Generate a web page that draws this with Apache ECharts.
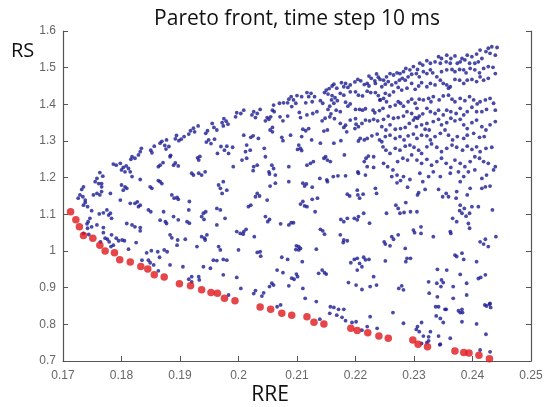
<!DOCTYPE html>
<html><head><meta charset="utf-8">
<script src="https://cdn.jsdelivr.net/npm/echarts@6/dist/echarts.min.js"></script>
<style>html,body{margin:0;padding:0;background:#fff}#c{width:550px;height:407px}</style>
</head><body><div id="c"></div>
<script>
const titleText = 'Pareto front, time step 10 ms';
const xName = 'RRE';
const yName = 'RS';
const xTicks = [0.17, 0.18, 0.19, 0.2, 0.21, 0.22, 0.23, 0.24, 0.25];
const yTicks = [0.7, 0.8, 0.9, 1, 1.1, 1.2, 1.3, 1.4, 1.5, 1.6];

// Pareto front (red)
const paretoFront = [[.1713,1.107],[.1722,1.085],[.1728,1.066],[.1735,1.042],[.1751,1.035],[.1763,1.016],[.1772,1.000],[.1788,0.995],[.1797,0.976],[.1815,0.970],[.1833,0.958],[.1845,0.951],[.1856,0.935],[.1873,0.929],[.1899,0.911],[.1918,0.905],[.1937,0.894],[.1953,0.887],[.1964,0.885],[.1976,0.871],[.1994,0.864],[.2037,0.847],[.2055,0.841],[.2074,0.830],[.2091,0.825],[.2117,0.821],[.2129,0.806],[.2146,0.801],[.2192,0.789],[.2203,0.783],[.2221,0.777],[.2240,0.768],[.2256,0.762],[.2298,0.757],[.2307,0.746],[.2323,0.739],[.2370,0.727],[.2385,0.723],[.2394,0.722],[.2411,0.716],[.2429,0.706]];

// other solutions (blue), by region
const blueUpperLeft = [[.1997,1.377],[.1995,1.366],[.1975,1.361],[.1979,1.354],[.1972,1.350],[.1982,1.346],[.1974,1.341],[.1955,1.348],[.1958,1.337],[.1963,1.330],[.1947,1.328],[.1944,1.321],[.1931,1.341],[.1923,1.335],[.1918,1.328],[.1915,1.319],[.1925,1.325],[.1907,1.312],[.1902,1.305],[.1894,1.315],[.1892,1.306],[.1898,1.301],[.1877,1.303],[.1869,1.299],[.1866,1.294],[.1874,1.288],[.1881,1.285],[.1876,1.278],[.1856,1.286],[.1850,1.275],[.1834,1.280],[.1884,1.261],[.1892,1.240],[.1897,1.232],[.1889,1.234],[.1930,1.254],[.1934,1.258],[.1932,1.248],[.1945,1.297],[.1949,1.303],[.1953,1.293],[.1959,1.305],[.1970,1.285],[.1976,1.275],[.1980,1.286],[.1990,1.283],[.1964,1.266],[.1983,1.266],[.1991,1.230]];

const blueLeftEdge = [[.1786,1.237],[.1791,1.234],[.1798,1.239],[.1803,1.228],[.1808,1.232],[.1812,1.225],[.1800,1.221],[.1806,1.216],[.1815,1.216],[.1818,1.257],[.1823,1.253],[.1829,1.262],[.1832,1.271],[.1816,1.250],[.1852,1.268],[.1866,1.234],[.1871,1.241],[.1863,1.230],[.1883,1.257],[.1763,1.214],[.1768,1.204],[.1758,1.198],[.1755,1.189],[.1761,1.184],[.1766,1.184],[.1766,1.175],[.1735,1.175],[.1732,1.168],[.1729,1.153],[.1734,1.148],[.1726,1.144],[.1738,1.139],[.1738,1.132],[.1735,1.125],[.1742,1.121],[.1749,1.110],[.1752,1.153],[.1758,1.157],[.1763,1.153],[.1766,1.162],[.1781,1.157],[.1798,1.139],[.1800,1.180],[.1806,1.175],[.1803,1.166],[.1809,1.171],[.1818,1.203],[.1832,1.195],[.1849,1.175],[.1852,1.171],[.1866,1.189],[.1869,1.184],[.1863,1.192],[.1815,1.130],[.1823,1.130],[.1827,1.134],[.1832,1.125],[.1829,1.121],[.1846,1.112],[.1850,1.107],[.1762,1.101],[.1769,1.104],[.1775,1.112],[.1781,1.103],[.1778,1.098],[.1783,1.089],[.1746,1.089],[.1743,1.080],[.1741,1.074],[.1742,1.062],[.1749,1.066],[.1758,1.071],[.1769,1.064],[.1809,1.075],[.1818,1.071],[.1823,1.066],[.1832,1.064],[.1872,1.107],[.1866,1.084],[.1875,1.080],[.1877,1.075]];

const blueLowerLeft = [[.1920,1.212],[.1923,1.207],[.1932,1.212],[.1937,1.207],[.1943,1.216],[.1966,1.180],[.1969,1.171],[.1974,1.189],[.1980,1.166],[.1972,1.157],[.1886,1.153],[.1890,1.144],[.1895,1.146],[.1897,1.141],[.1916,1.135],[.1915,1.112],[.1940,1.103],[.1944,1.107],[.1937,1.094],[.1941,1.086],[.1963,1.116],[.1969,1.112],[.1977,1.089],[.1912,1.080],[.1916,1.076],[.1889,1.094],[.1897,1.085],[.1963,1.071],[.1883,1.044],[.1886,1.036],[.1896,1.030],[.1895,1.016],[.1909,1.032],[.1937,1.039],[.1942,1.035],[.1946,1.044],[.1943,1.030],[.1929,1.012],[.1966,1.012],[.1969,1.003],[.1957,0.975],[.1963,0.974],[.1974,0.977],[.1980,0.975],[.1940,0.957],[.1952,0.953],[.1974,0.935],[.1832,1.055],[.1769,1.050],[.1783,1.044],[.1791,1.035],[.1795,1.028],[.1801,1.030],[.1805,1.028],[.1782,1.012],[.1786,1.016],[.1812,1.005],[.1825,1.023],[.1835,0.975],[.1851,1.001],[.1862,0.998],[.1873,1.003],[.1878,0.998],[.1865,0.983],[.1843,0.995],[.1846,0.975],[.1849,0.968],[.1855,0.962],[.1863,0.946],[.1883,0.962],[.1905,0.957],[.1915,0.923],[.1920,0.930],[.1920,0.916],[.1932,0.930],[.1933,0.921],[.1983,0.880],[.1735,1.048],[.1744,1.045],[.1764,1.025],[.1772,1.035],[.1776,1.032],[.1779,1.025]];

const blueUpperMiddle = [[.2236,1.483],[.2239,1.474],[.2227,1.471],[.2223,1.477],[.2220,1.457],[.2215,1.454],[.2223,1.450],[.2209,1.464],[.2204,1.468],[.2199,1.461],[.2233,1.464],[.2234,1.457],[.2183,1.457],[.2176,1.459],[.2180,1.448],[.2187,1.446],[.2191,1.453],[.2163,1.455],[.2160,1.450],[.2155,1.443],[.2150,1.439],[.2147,1.432],[.2153,1.428],[.2168,1.444],[.2160,1.424],[.2165,1.418],[.2159,1.412],[.2169,1.410],[.2163,1.403],[.2156,1.395],[.2153,1.386],[.2174,1.430],[.2180,1.425],[.2191,1.434],[.2200,1.434],[.2205,1.425],[.2212,1.423],[.2220,1.436],[.2226,1.432],[.2234,1.432],[.2239,1.424],[.2242,1.412],[.2241,1.383],[.2233,1.377],[.2230,1.384],[.2217,1.388],[.2212,1.384],[.2207,1.386],[.2200,1.386],[.2191,1.401],[.2183,1.406],[.2187,1.395],[.2174,1.380],[.2167,1.384],[.2158,1.374],[.2144,1.403],[.2140,1.410],[.2130,1.421],[.2124,1.430],[.2117,1.432],[.2120,1.421],[.2126,1.407],[.2115,1.404],[.2108,1.421],[.2100,1.424],[.2094,1.412],[.2090,1.421],[.2086,1.414],[.2084,1.404],[.2091,1.394],[.2098,1.403],[.2077,1.404],[.2070,1.403],[.2060,1.398],[.2058,1.384],[.2061,1.380],[.2055,1.366],[.2049,1.364],[.2046,1.355],[.2052,1.359],[.2037,1.386],[.2032,1.375],[.2026,1.380],[.2023,1.371],[.2029,1.364],[.2009,1.384],[.2004,1.375],[.2071,1.366],[.2076,1.355],[.2084,1.368],[.2104,1.378],[.2106,1.364],[.2117,1.371],[.2127,1.375],[.2134,1.380],[.2143,1.355],[.2148,1.362],[.2156,1.366],[.2164,1.361],[.2174,1.348],[.2180,1.337],[.2183,1.343],[.2191,1.357],[.2200,1.361],[.2201,1.346],[.2205,1.339],[.2199,1.334],[.2211,1.348],[.2217,1.357],[.2224,1.355],[.2231,1.359],[.2238,1.355],[.2237,1.319],[.2228,1.314],[.2220,1.307],[.2215,1.303],[.2208,1.307],[.2205,1.300],[.2241,1.303],[.2185,1.325],[.2175,1.301],[.2163,1.294],[.2152,1.330],[.2146,1.327],[.2140,1.294],[.2125,1.303],[.2120,1.334],[.2115,1.328],[.2110,1.332],[.2108,1.312],[.2089,1.316],[.2074,1.310],[.2076,1.301],[.2058,1.337],[.2054,1.330],[.2058,1.325],[.2034,1.307],[.2025,1.314],[.2021,1.310],[.2009,1.316],[.2014,1.289],[.2020,1.275],[.2012,1.271],[.2006,1.248],[.2014,1.253],[.2026,1.230],[.2032,1.234],[.2044,1.280],[.2046,1.257],[.2057,1.234],[.2060,1.225],[.2086,1.230],[.2103,1.289],[.2106,1.280],[.2101,1.277],[.2108,1.274],[.2117,1.234],[.2123,1.239],[.2128,1.244],[.2146,1.253],[.2152,1.248],[.2149,1.257],[.2157,1.244],[.2181,1.262],[.2215,1.244],[.2218,1.253],[.2222,1.259],[.2231,1.228],[.2220,1.230],[.2231,1.257]];

const blueUpperRight = [[.2442,1.555],[.2433,1.557],[.2427,1.553],[.2430,1.539],[.2439,1.534],[.2423,1.544],[.2413,1.548],[.2407,1.537],[.2416,1.525],[.2410,1.516],[.2404,1.512],[.2399,1.530],[.2391,1.534],[.2387,1.521],[.2395,1.512],[.2382,1.525],[.2379,1.516],[.2370,1.532],[.2374,1.512],[.2363,1.525],[.2356,1.534],[.2355,1.516],[.2362,1.512],[.2347,1.525],[.2342,1.530],[.2336,1.516],[.2345,1.512],[.2328,1.512],[.2322,1.519],[.2315,1.507],[.2310,1.512],[.2306,1.495],[.2299,1.503],[.2293,1.494],[.2286,1.498],[.2282,1.489],[.2276,1.484],[.2271,1.486],[.2265,1.480],[.2259,1.484],[.2253,1.475],[.2248,1.466],[.2242,1.468],[.2245,1.448],[.2251,1.455],[.2256,1.462],[.2262,1.453],[.2269,1.459],[.2275,1.466],[.2280,1.471],[.2285,1.466],[.2290,1.475],[.2296,1.482],[.2304,1.484],[.2309,1.475],[.2316,1.489],[.2322,1.484],[.2328,1.494],[.2332,1.486],[.2339,1.475],[.2347,1.489],[.2356,1.494],[.2365,1.495],[.2370,1.489],[.2378,1.495],[.2385,1.494],[.2389,1.486],[.2396,1.498],[.2404,1.494],[.2412,1.486],[.2419,1.498],[.2427,1.503],[.2435,1.501],[.2439,1.484],[.2427,1.471],[.2419,1.466],[.2413,1.475],[.2407,1.462],[.2399,1.468],[.2391,1.466],[.2385,1.457],[.2378,1.466],[.2370,1.468],[.2362,1.448],[.2356,1.453],[.2359,1.444],[.2350,1.457],[.2345,1.466],[.2336,1.453],[.2328,1.457],[.2322,1.448],[.2313,1.459],[.2308,1.450],[.2302,1.441],[.2296,1.457],[.2288,1.444],[.2279,1.439],[.2273,1.446],[.2265,1.434],[.2258,1.425],[.2251,1.430],[.2248,1.416],[.2242,1.412],[.2253,1.407],[.2259,1.394],[.2247,1.389],[.2268,1.398],[.2273,1.407],[.2277,1.403],[.2282,1.395],[.2290,1.407],[.2296,1.414],[.2302,1.403],[.2305,1.389],[.2309,1.414],[.2316,1.412],[.2325,1.416],[.2329,1.407],[.2333,1.421],[.2343,1.412],[.2350,1.423],[.2359,1.425],[.2365,1.414],[.2370,1.407],[.2379,1.416],[.2387,1.410],[.2395,1.421],[.2402,1.412],[.2408,1.401],[.2413,1.407],[.2422,1.412],[.2430,1.416],[.2436,1.403],[.2439,1.384],[.2424,1.386],[.2416,1.380],[.2407,1.380],[.2399,1.392],[.2391,1.380],[.2385,1.371],[.2379,1.389],[.2372,1.375],[.2363,1.380],[.2356,1.384],[.2350,1.371],[.2342,1.384],[.2336,1.375],[.2328,1.380],[.2322,1.389],[.2315,1.374],[.2309,1.368],[.2302,1.364],[.2296,1.375],[.2288,1.380],[.2282,1.368],[.2273,1.364],[.2265,1.362],[.2256,1.368],[.2248,1.359],[.2245,1.339],[.2252,1.330],[.2259,1.344],[.2268,1.332],[.2277,1.334],[.2285,1.337],[.2292,1.348],[.2299,1.357],[.2306,1.362],[.2304,1.339],[.2313,1.344],[.2322,1.348],[.2326,1.330],[.2319,1.332],[.2333,1.353],[.2342,1.359],[.2347,1.344],[.2356,1.350],[.2363,1.362],[.2370,1.355],[.2379,1.359],[.2385,1.344],[.2391,1.334],[.2399,1.350],[.2407,1.357],[.2416,1.339],[.2423,1.330],[.2430,1.344],[.2439,1.353],[.2420,1.312],[.2412,1.310],[.2402,1.321],[.2391,1.316],[.2385,1.307],[.2374,1.312],[.2366,1.303],[.2359,1.316],[.2353,1.330],[.2345,1.321],[.2336,1.312],[.2328,1.303],[.2322,1.314],[.2313,1.316],[.2305,1.307],[.2299,1.319],[.2290,1.314],[.2283,1.303],[.2276,1.312],[.2268,1.307],[.2259,1.316],[.2251,1.312],[.2245,1.298],[.2247,1.284],[.2252,1.275],[.2259,1.266],[.2268,1.280],[.2276,1.275],[.2285,1.286],[.2293,1.289],[.2300,1.283],[.2308,1.275],[.2313,1.266],[.2322,1.284],[.2330,1.292],[.2339,1.283],[.2347,1.271],[.2356,1.280],[.2365,1.289],[.2373,1.283],[.2383,1.275],[.2391,1.286],[.2399,1.277],[.2407,1.284],[.2413,1.271],[.2423,1.280],[.2433,1.283],[.2439,1.230],[.2427,1.239],[.2419,1.244],[.2412,1.253],[.2404,1.257],[.2396,1.244],[.2387,1.230],[.2379,1.239],[.2370,1.248],[.2363,1.228],[.2355,1.239],[.2347,1.253],[.2339,1.244],[.2330,1.234],[.2322,1.250],[.2313,1.239],[.2305,1.248],[.2296,1.262],[.2289,1.248],[.2281,1.253],[.2272,1.244],[.2264,1.221],[.2255,1.230],[.2248,1.239],[.2262,1.203],[.2271,1.207],[.2282,1.203],[.2293,1.195],[.2310,1.212],[.2325,1.203],[.2333,1.216],[.2345,1.203],[.2362,1.212],[.2376,1.216],[.2385,1.203],[.2393,1.216],[.2404,1.221],[.2416,1.198],[.2424,1.207],[.2436,1.221]];

const blueLowerMiddle = [[.2025,1.219],[.2052,1.216],[.2053,1.210],[.2063,1.207],[.2063,1.185],[.2054,1.177],[.2086,1.189],[.2110,1.185],[.2116,1.183],[.2113,1.177],[.2126,1.174],[.2139,1.198],[.2151,1.194],[.2152,1.189],[.2162,1.203],[.2170,1.205],[.2183,1.205],[.2204,1.216],[.2205,1.212],[.2217,1.207],[.2032,1.157],[.2036,1.150],[.2029,1.148],[.2049,1.139],[.2017,1.121],[.2021,1.125],[.2110,1.135],[.2106,1.128],[.2113,1.123],[.2117,1.121],[.2126,1.141],[.2135,1.144],[.2131,1.107],[.2186,1.155],[.2190,1.150],[.2203,1.166],[.2204,1.153],[.2207,1.144],[.2213,1.155],[.2234,1.171],[.2236,1.157],[.2046,1.094],[.2050,1.080],[.2053,1.086],[.2072,1.074],[.2086,1.071],[.2090,1.077],[.2094,1.077],[.2175,1.086],[.2180,1.080],[.2186,1.089],[.2198,1.089],[.2203,1.085],[.2205,1.094],[.2214,1.103],[.2224,1.076],[.2140,1.059],[.2144,1.055],[.2147,1.046],[.1997,1.053],[.2003,1.048],[.2009,1.053],[.2013,1.059],[.2008,1.046],[.2027,1.039],[.2174,1.044],[.2180,1.030],[.2186,1.028],[.2179,1.023],[.2099,1.014],[.2103,1.012],[.2106,1.007],[.2098,1.004],[.2103,1.003],[.2133,1.005],[.2000,1.003],[.2032,0.996],[.2037,0.998],[.2038,0.986],[.2074,0.983],[.2084,0.977],[.2109,0.971],[.2192,0.968],[.2198,0.977],[.2203,0.980],[.2207,0.966],[.2214,0.983],[.2217,0.976],[.2223,0.977],[.2211,0.957],[.2203,0.948],[.2066,0.948],[.2076,0.941],[.2091,0.926],[.2099,0.937],[.2101,0.930],[.2095,0.923],[.2143,0.948],[.2147,0.941],[.2150,0.937],[.2137,0.939],[.2188,0.914],[.2201,0.907],[.2211,0.895],[.2225,0.903],[.2236,0.907],[.2231,0.930],[.1997,0.928],[.2057,0.912],[.2060,0.907],[.2053,0.903],[.2086,0.905],[.2110,0.898],[.2133,0.862],[.2114,0.871],[.2029,0.892],[.2026,0.884],[.2043,0.886],[.2040,0.877],[.2004,0.898],[.2066,0.848],[.2072,0.853],[.2157,0.848],[.2163,0.846],[.2171,0.841],[.2180,0.841],[.2168,0.825],[.2177,0.819],[.2183,0.810],[.2156,0.830],[.2139,0.814],[.2194,0.805],[.2201,0.807],[.2220,0.794],[.2211,0.784],[.2225,0.821],[.2237,0.789]];

const blueLowerRight = [[.2271,1.186],[.2277,1.192],[.2289,1.174],[.2315,1.189],[.2319,1.168],[.2308,1.159],[.2306,1.153],[.2342,1.168],[.2355,1.157],[.2349,1.148],[.2359,1.148],[.2373,1.162],[.2372,1.144],[.2379,1.189],[.2391,1.153],[.2396,1.171],[.2416,1.171],[.2422,1.175],[.2430,1.177],[.2434,1.112],[.2379,1.125],[.2378,1.110],[.2382,1.103],[.2386,1.116],[.2389,1.095],[.2395,1.103],[.2399,1.121],[.2410,1.121],[.2393,1.075],[.2395,1.062],[.2373,1.080],[.2366,1.089],[.2362,1.053],[.2363,1.048],[.2299,1.057],[.2301,1.050],[.2312,1.048],[.2312,1.066],[.2269,1.125],[.2273,1.116],[.2276,1.103],[.2283,1.105],[.2294,1.107],[.2305,1.107],[.2286,1.132],[.2253,1.103],[.2262,1.039],[.2265,1.032],[.2249,1.025],[.2251,1.019],[.2259,1.014],[.2273,1.044],[.2285,1.007],[.2288,0.980],[.2286,0.971],[.2294,0.980],[.2251,0.973],[.2333,1.039],[.2370,0.989],[.2373,0.985],[.2382,0.994],[.2385,0.977],[.2407,0.971],[.2413,1.025],[.2419,1.019],[.2422,1.032],[.2440,1.039],[.2427,1.012],[.2410,0.925],[.2414,0.928],[.2422,0.935],[.2379,0.936],[.2340,0.950],[.2356,0.948],[.2347,0.921],[.2350,0.914],[.2339,0.912],[.2346,0.903],[.2325,0.916],[.2326,0.885],[.2340,0.875],[.2367,0.903],[.2367,0.871],[.2390,0.912],[.2390,0.880],[.2274,0.898],[.2279,0.905],[.2282,0.894],[.2342,0.848],[.2355,0.841],[.2376,0.837],[.2379,0.832],[.2382,0.841],[.2424,0.850],[.2429,0.855],[.2431,0.846],[.2264,0.832],[.2282,0.803],[.2338,0.823],[.2345,0.816],[.2350,0.805],[.2382,0.807],[.2407,0.801],[.2306,0.794],[.2313,0.805],[.2304,0.786],[.2309,0.780],[.2316,0.768],[.2325,0.766],[.2328,0.780],[.2342,0.768],[.2362,0.762],[.2345,0.746],[.2325,0.755],[.2322,0.750],[.2313,0.748],[.2413,0.730],[.2430,0.725],[.2423,0.773],[.2421,0.853],[.2430,0.857],[.2337,0.848],[.2353,0.841],[.2383,0.832],[.2344,0.744]];

const allBlue = [].concat(blueUpperLeft, blueLeftEdge, blueLowerLeft, blueUpperMiddle, blueUpperRight, blueLowerMiddle, blueLowerRight);

const fmt = v => String(parseFloat(v.toFixed(2)));
const chart = echarts.init(document.getElementById('c'), null, {renderer: 'canvas'});
const axisCol = '#555';
const labelFont = 'Liberation Sans, Arial, sans-serif';
chart.setOption({
  animation: false,
  backgroundColor: '#fff',
  grid: {left: 63, right: 19, top: 31, bottom: 46, containLabel: false},
  xAxis: {
    type: 'value', min: xTicks[0], max: xTicks[xTicks.length - 1], interval: 0.01,
    axisLine: {show: true, onZero: false, lineStyle: {color: axisCol, width: 1.2}},
    axisTick: {show: true, inside: true, length: 5, lineStyle: {color: axisCol}},
    axisLabel: {color: '#666', fontSize: 12, fontFamily: labelFont, margin: 9, formatter: fmt},
    splitLine: {show: false}
  },
  yAxis: [{
    type: 'value', min: yTicks[0], max: yTicks[yTicks.length - 1], interval: 0.1,
    axisLine: {show: true, onZero: false, lineStyle: {color: axisCol, width: 1.2}},
    axisTick: {show: true, inside: true, length: 5, lineStyle: {color: axisCol}},
    axisLabel: {color: '#666', fontSize: 12, fontFamily: labelFont, margin: 7, formatter: fmt},
    splitLine: {show: false}
  }, {
    type: 'value', position: 'right', min: yTicks[0], max: yTicks[yTicks.length - 1], interval: 0.1,
    axisLine: {show: true, onZero: false, lineStyle: {color: axisCol, width: 1.2}},
    axisTick: {show: true, inside: true, length: 5, lineStyle: {color: axisCol}},
    axisLabel: {show: false}, splitLine: {show: false}
  }],
  series: [{
    type: 'scatter', name: 'solutions', data: allBlue, symbol: 'circle', symbolSize: 3.8,
    itemStyle: {color: '#1c1c92'}, silent: true, z: 2
  }, {
    type: 'scatter', name: 'Pareto front', data: paretoFront, symbol: 'circle', symbolSize: 7.5,
    itemStyle: {color: '#e0161b'}, silent: true, z: 3
  }],
  graphic: [
    {type: 'text', x: 297, y: 19, style: {text: titleText, fill: '#111', font: '21px "Open Sans", sans-serif', align: 'center', verticalAlign: 'middle', textAlign: 'center', textVerticalAlign: 'middle'}},
    {type: 'text', x: 11, y: 51, style: {text: yName, fill: '#111', font: '20px "Open Sans", sans-serif', align: 'left', verticalAlign: 'middle', textAlign: 'left', textVerticalAlign: 'middle'}},
    {type: 'text', x: 270, y: 395, style: {text: xName, fill: '#111', font: '21px "Open Sans", sans-serif', align: 'center', verticalAlign: 'middle', textAlign: 'center', textVerticalAlign: 'middle'}}
  ]
});
</script></body></html>
